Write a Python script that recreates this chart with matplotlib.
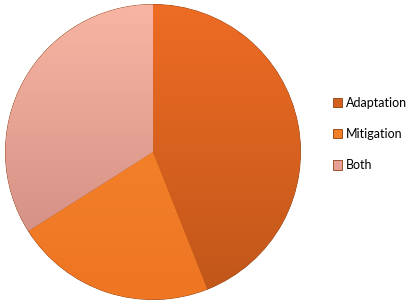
import numpy as np
import matplotlib.pyplot as plt
from matplotlib.colors import LinearSegmentedColormap

labels = ['Adaptation', 'Mitigation', 'Both']
shares = [44, 22, 34]
colors = ['#d2601e', '#f37e28', '#e8a096']
# top / bottom tints used for the shading of each slice
tops = ['#ee6c24', '#f88a30', '#f8b5a3']
bottoms = ['#c0561a', '#ee7522', '#cc877e']

plt.rcParams['font.family'] = ['Lato', 'DejaVu Sans']

fig = plt.figure(figsize=(4.08, 3.07), dpi=100)
ax = fig.add_axes([4 / 408, 6 / 307, 298 / 408, 298 / 307])

wedges, _ = ax.pie(shares, colors=colors, startangle=90, counterclock=False,
                   wedgeprops=dict(edgecolor='#8a3f10', linewidth=0.6))

grad = np.linspace(0, 1, 256).reshape(-1, 1)
for w, t, b in zip(wedges, tops, bottoms):
    cmap = LinearSegmentedColormap.from_list('g', [t, b])
    im = ax.imshow(grad, cmap=cmap, extent=(-1, 1, -1, 1), origin='upper',
                   aspect='auto', zorder=w.get_zorder() + 0.1)
    im.set_clip_path(w)

ax.set_xlim(-1.01, 1.01)
ax.set_ylim(-1.01, 1.01)
ax.set_aspect('equal')
ax.axis('off')

fig.legend(wedges, labels, loc='center left', bbox_to_anchor=(333 / 408, 1 - 134 / 307),
           frameon=False, fontsize=9, handlelength=0.75, handleheight=0.75,
           handletextpad=0.3, labelspacing=1.55, borderpad=0, borderaxespad=0)

fig.savefig('out.png', dpi=100)
